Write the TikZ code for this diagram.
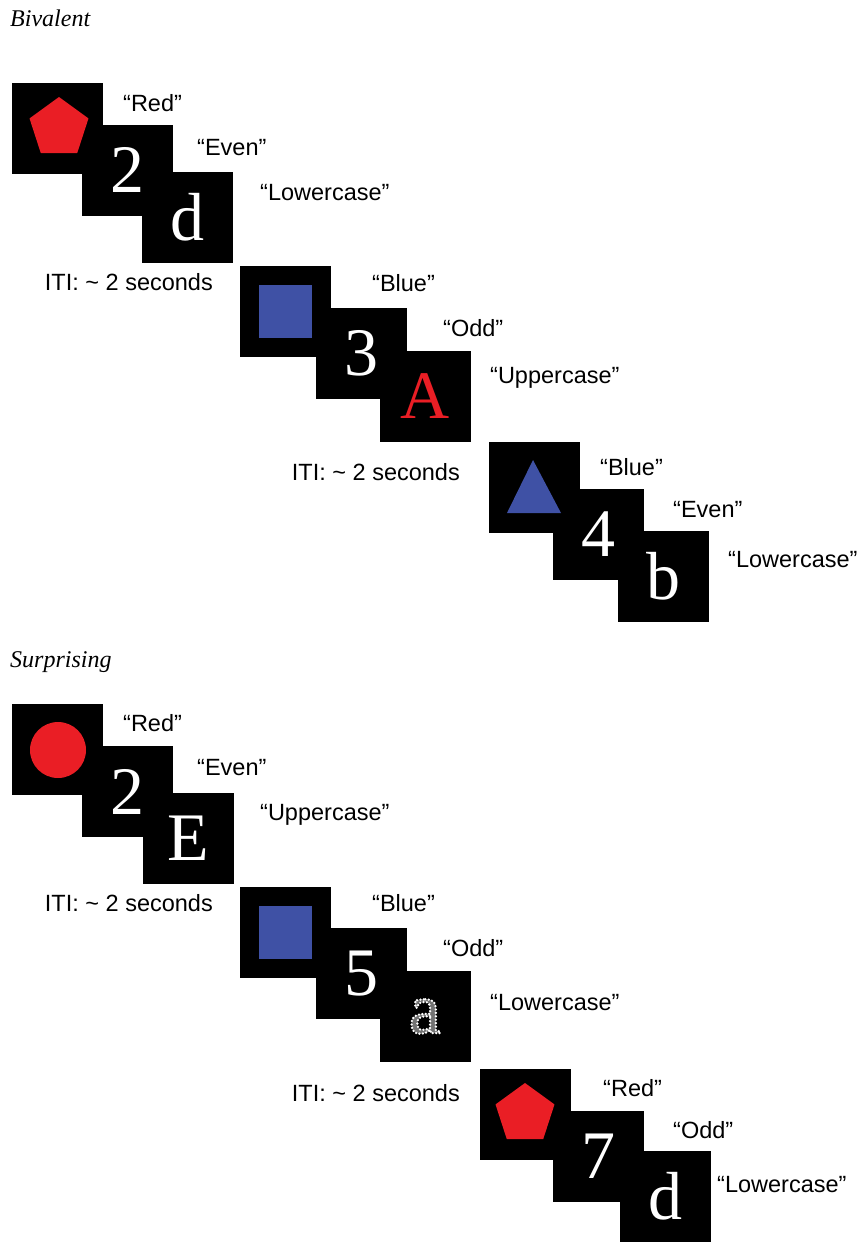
\documentclass[tikz,border=0pt]{standalone}
\usepackage{fontspec}
\setmainfont{Liberation Serif}
\setsansfont{Liberation Sans}
\usetikzlibrary{calc,shapes.geometric}

\definecolor{stimred}{RGB}{234,30,37}
\definecolor{stimblue}{RGB}{63,81,165}

\tikzset{
  trial/.style={fill=black, text=white, minimum size=91pt, inner sep=0pt,
    font=\fontsize{68}{68}\selectfont},
  say/.style={anchor=west, inner sep=0pt, font=\sffamily\fontsize{23.5}{26}\selectfont},
  iti/.style={anchor=east, inner sep=0pt, font=\sffamily\fontsize{23.5}{26}\selectfont},
  cond/.style={anchor=base west, inner sep=0pt, font=\itshape\fontsize{24}{28}\selectfont},
}

\begin{document}
\begin{tikzpicture}[x=1pt, y=-1pt]
    \useasboundingbox (0,0) rectangle (857,1242);

    % Condition titles
    \node[cond] (tbiv) at (10,27) {Bivalent};
    \node[cond] (tsur) at (10,667) {Surprising};

    % Bivalent trials: colour, parity, case
    \node[trial] (b1) at (57.5,128) {};
    \node[trial] (b2) at (127.5,170) {2};
    \node[trial] (b3) at (187,217.5) {d};
    \node[trial] (b4) at (285.5,311) {};
    \node[trial] (b5) at (361,353) {3};
    \node[trial, text=stimred] (b6) at (425,396) {A};
    \node[trial] (b7) at (534,487.5) {};
    \node[trial] (b8) at (598,534.5) {4};
    \node[trial] (b9) at (663,576.5) {b};

    % Shapes in the colour boxes
    \node[regular polygon, regular polygon sides=5, fill=stimred, minimum size=62pt, inner sep=0pt] (pb1) at (59,128) {};
    \node[fill=stimblue, minimum size=53pt, inner sep=0pt] (qb4) at (b4) {};
    \fill[stimblue] ($(b7)+(-1,-27.5)$) -- ($(b7)+(27,25.5)$) -- ($(b7)+(-27,25.5)$) -- cycle;

    % Responses
    \node[say] (rb1) at (123,103) {“Red”};
    \node[say] (rb2) at (197,148) {“Even”};
    \node[say] (rb3) at (260,193) {“Lowercase”};
    \node[say] (rb4) at (372,283) {“Blue”};
    \node[say] (rb5) at (443,328) {“Odd”};
    \node[say] (rb6) at (490,378) {“Uppercase”};
    \node[say] (rb7) at (600,467) {“Blue”};
    \node[say] (rb8) at (673,510) {“Even”};
    \node[say] (rb9) at (728,560) {“Lowercase”};

    % Inter-trial intervals
    \node[iti] (ib1) at (213,282) {ITI: \textasciitilde{} 2 seconds};
    \node[iti] (ib2) at (460,472) {ITI: \textasciitilde{} 2 seconds};

    % Surprising trials
    \node[trial] (s1) at (57.5,749) {};
    \node[trial] (s2) at (127.5,791.5) {2};
    \node[trial] (s3) at (188.5,838) {E};
    \node[trial] (s4) at (285.5,932) {};
    \node[trial] (s5) at (361,973.5) {5};
    % dotted letter: gray fill, white dotted outline
    \node[trial, text=white!45!black, font=\fontsize{72}{72}\selectfont] (s6) at (425,1016.5)
        {\special{pdf:literal direct 2 Tr 1 G 2.6 w 1 J [0 3.4] 0 d}a};
    \node[trial] (s7) at (525,1114) {};
    \node[trial] (s8) at (598.5,1156.5) {7};
    \node[trial] (s9) at (665,1196) {d};

    % Shapes in the colour boxes
    \node[circle, fill=stimred, minimum size=56pt, inner sep=0pt] (cs1) at (58,750) {};
    \node[fill=stimblue, minimum size=53pt, inner sep=0pt] (qs4) at (s4) {};
    \node[regular polygon, regular polygon sides=5, fill=stimred, minimum size=62pt, inner sep=0pt] (ps7) at (525,1114) {};

    % Responses
    \node[say] (rs1) at (123,723) {“Red”};
    \node[say] (rs2) at (197,768) {“Even”};
    \node[say] (rs3) at (260,815) {“Uppercase”};
    \node[say] (rs4) at (372,903) {“Blue”};
    \node[say] (rs5) at (443,948) {“Odd”};
    \node[say] (rs6) at (490,1003) {“Lowercase”};
    \node[say] (rs7) at (603,1088) {“Red”};
    \node[say] (rs8) at (673,1130) {“Odd”};
    \node[say] (rs9) at (717,1185) {“Lowercase”};

    % Inter-trial intervals
    \node[iti] (is1) at (213,903) {ITI: \textasciitilde{} 2 seconds};
    \node[iti] (is2) at (460,1093) {ITI: \textasciitilde{} 2 seconds};

\end{tikzpicture}
\end{document}
